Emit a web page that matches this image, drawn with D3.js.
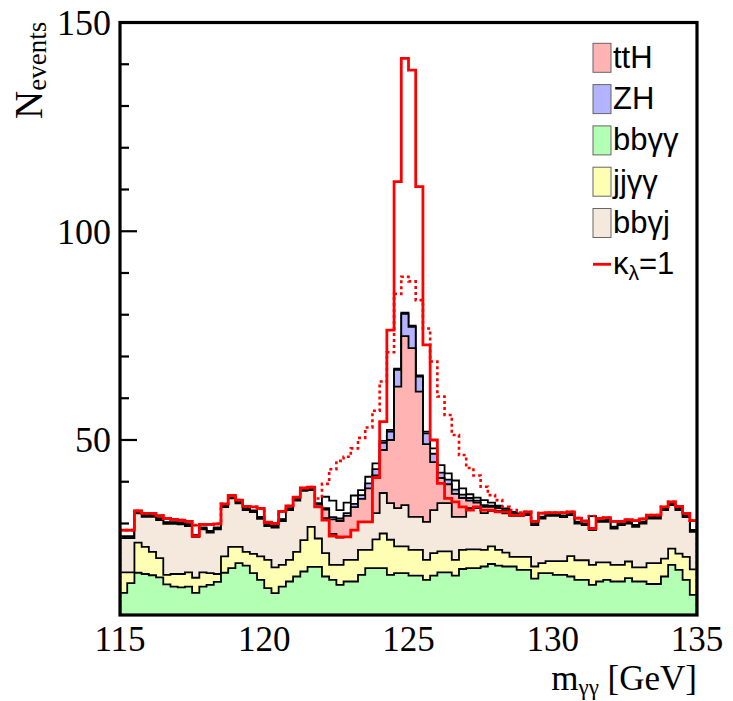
<!DOCTYPE html>
<html><head><meta charset="utf-8">
<script src="https://cdn.jsdelivr.net/npm/d3@7"></script>
<style>body{margin:0;background:#fff}</style>
</head><body>
<svg id="c" width="733" height="701"></svg>
<script>
// ---- data (80 bins of 0.25 GeV, 115-135 GeV) ----
const massRange = [115, 135];
const binWidth = 0.25;
const bbyy = [13.4,15.7,18.2,17.9,17.6,17.1,15.4,14.9,14.7,14.9,13.4,14.9,15.3,16.0,18.2,19.3,20.5,19.9,18.1,16.5,14.5,13.3,14.9,16.1,17.3,18.5,19.6,19.6,17.3,16.5,15.3,16.1,16.1,17.7,19.3,19.3,19.3,17.7,18.1,18.1,17.5,17.5,16.5,17.5,18.3,18.3,17.5,19.1,19.3,19.3,19.7,20.3,19.9,19.7,19.7,18.9,18.9,16.8,18.1,18.1,17.7,17.7,17.3,16.5,16.5,15.3,16.1,16.5,16.1,16.1,16.9,16.1,16.1,15.5,15.5,17.3,20.1,18.9,16.5,12.9];
const jjyy = [4.9,2.6,7.2,6.5,5.6,4.6,2.3,3.0,3.2,3.4,3.6,3.4,2.8,1.9,3.9,5.1,3.9,3.3,4.6,5.6,6.8,6.2,5.2,5.2,5.9,7.5,9.6,6.8,5.6,3.6,4.8,5.2,5.2,6.0,4.4,6.9,8.3,8.4,6.4,6.4,6.2,6.2,4.8,5.4,5.0,5.0,3.8,4.6,4.5,4.5,4.0,4.2,3.8,3.3,2.3,3.1,3.1,2.9,2.4,2.9,3.3,3.3,4.9,4.7,4.7,4.8,4.6,4.2,4.0,4.0,4.0,3.4,3.4,5.0,5.0,4.3,3.9,3.9,5.5,6.1];
const bbyj = [8.2,8.2,7.0,7.2,8.4,9.1,12.2,12.0,11.9,11.1,9.8,10.3,9.7,10.7,11.8,11.6,10.4,10.0,10.0,9.0,8.1,9.5,10.5,11.9,12.3,11.8,8.8,7.6,8.4,7.4,6.5,5.5,7.1,6.7,6.7,6.3,9.7,8.8,9.2,9.9,7.9,7.9,9.1,10.3,11.6,11.6,10.3,7.9,9.9,9.9,8.8,8.5,9.3,9.4,9.8,9.8,10.0,9.9,10.7,10.8,10.8,10.5,9.8,8.8,8.4,8.3,9.7,9.7,8.7,9.5,9.1,9.7,10.5,10.7,10.7,11.6,10.4,10.4,9.5,9.0];
const ttH = [0.3,0.3,0.3,0.3,0.3,0.3,0.3,0.3,0.3,0.3,0.3,0.3,0.3,0.3,0.3,0.3,0.3,0.3,0.3,0.3,0.3,0.3,0.3,0.3,0.3,0.3,0.3,0.5,2.0,3.5,4.0,5.0,5.5,5.5,8.0,9.0,10.3,15.1,29.1,40.5,40.4,30.0,18.6,11.5,6.0,4.5,5.5,4.5,1.8,1.3,1.5,1.0,0.7,0.6,0.5,0.3,0.3,0.3,0.3,0.3,0.3,0.3,0.3,0.3,0.3,0.3,0.3,0.3,0.3,0.3,0.3,0.3,0.3,0.3,0.3,0.3,0.3,0.3,0.3,0.3];
const ZH = [0.15,0.15,0.15,0.15,0.15,0.15,0.15,0.15,0.15,0.15,0.15,0.15,0.15,0.15,0.15,0.15,0.15,0.15,0.15,0.15,0.15,0.15,0.15,0.15,0.15,0.15,0.15,0.15,0.4,0.5,0.6,0.7,0.8,0.9,1.2,1.5,1.7,2.0,4.0,5.3,5.1,3.6,2.6,2.0,1.3,1.1,1.0,0.8,0.6,0.5,0.4,0.3,0.3,0.2,0.2,0.1,0.15,0.15,0.15,0.15,0.15,0.15,0.15,0.15,0.15,0.15,0.15,0.15,0.15,0.15,0.15,0.15,0.15,0.15,0.15,0.15,0.15,0.15,0.15,0.15];
const otherH = [1.4,1.4,0.2,0.3,0.3,0.6,0.8,0.6,0.5,0.6,2.3,0.7,1.5,0.8,0.3,0.2,0.3,0.4,0.8,2.0,0.4,0.5,1.8,0.5,0.3,0.2,0.2,0.2,2.7,4.0,2.0,2.5,2.0,1.2,1.6,1.4,0.5,0.4,0.3,0.3,0.3,0.3,0.4,1.3,1.8,1.5,2.2,1.5,0.9,0.7,1.2,0.7,0.3,0.4,0.3,0.2,0.3,0.4,0.8,0.3,0.3,0.6,0.3,0.8,0.5,2.9,0.3,0.5,1.2,0.4,0.4,1.0,0.6,0.3,0.3,0.3,0.3,0.4,0.4,2.2];
const kl1 = [28.4,28.4,33.0,32.4,32.4,31.9,31.2,31.0,30.8,30.5,27.0,29.8,29.8,29.9,34.7,36.7,35.6,34.1,34.0,33.6,30.3,30.0,32.9,34.2,36.3,38.5,38.7,34.0,30.8,27.0,26.8,26.8,28.4,30.4,30.4,41.0,54.4,76.3,111.9,141.4,138.6,110.7,72.8,50.0,39.6,36.0,35.2,34.0,33.2,34.0,33.2,33.2,32.8,32.8,32.0,32.0,32.8,30.5,32.5,32.6,32.6,32.6,32.8,31.3,30.6,28.8,31.2,31.4,30.5,30.5,30.9,30.7,31.1,32.0,32.0,34.0,35.2,34.1,32.4,30.7];
const klAlt = [28.4,28.4,33.0,32.4,32.4,31.9,31.2,31.0,30.8,30.5,29.6,29.8,29.8,29.9,34.7,36.7,35.6,34.1,34.0,33.6,30.3,30.0,32.9,34.2,36.3,38.5,38.7,36.0,39.5,43.0,45.0,46.0,48.0,50.5,53.0,57.0,64.0,71.0,85.0,89.1,88.0,83.5,76.7,68.8,60.4,56.0,51.2,46.4,43.3,41.5,38.8,36.8,35.6,34.0,33.2,32.6,32.8,30.5,32.5,32.6,32.6,32.6,32.8,31.3,30.6,31.8,31.2,31.4,30.5,30.5,30.9,30.7,31.1,32.0,32.0,34.0,35.2,34.1,32.4,30.7];
const yDomain = [8.08, 150];
const yMajorTicks = [50, 100, 150];
const yMinorTicks = [10,20,30,40,60,70,80,90,110,120,130,140];
const xTicks = [115, 120, 125, 130, 135];
const legendItems = [
  {label:"ttH", color:"#ffb3b3"},
  {label:"ZH", color:"#b3b3ff"},
  {label:"bbγγ", color:"#b3ffb3"},
  {label:"jjγγ", color:"#ffffb3"},
  {label:"bbγj", color:"#f5e8dc"}
];

// ---- layout ----
const L = 120, R = 697, T = 22.5, B = 615;
const svg = d3.select("#c");
const x = d3.scaleLinear().domain(massRange).range([L, R]);
const y = d3.scaleLinear().domain(yDomain).range([B, T]);
const edges = d3.range(massRange[0], massRange[1] + binWidth/2, binWidth);

svg.append("defs").append("clipPath").attr("id","clip")
  .append("rect").attr("x",L).attr("y",T).attr("width",R-L).attr("height",B-T);

// ticks (drawn under the histograms)
const tickG = svg.append("g").attr("stroke","#000").attr("stroke-width",2.2);
yMajorTicks.forEach(v => tickG.append("line").attr("x1",L).attr("x2",L+17).attr("y1",y(v)).attr("y2",y(v)));
yMinorTicks.forEach(v => tickG.append("line").attr("x1",L).attr("x2",L+9).attr("y1",y(v)).attr("y2",y(v)));

function stepPoints(vals){
  const pts = [[edges[0], yDomain[0]]];
  vals.forEach((v,i)=>{ pts.push([edges[i], v]); pts.push([edges[i+1], v]); });
  pts.push([edges[edges.length-1], yDomain[0]]);
  return pts;
}
const line = d3.line().x(d=>x(d[0])).y(d=>y(d[1]));
const area = d3.area().x(d=>x(d[0])).y0(y(yDomain[0])).y1(d=>y(d[1]));

const keys = ["bbyy","jjyy","bbyj","ttH","ZH","otherH"];
const src = {bbyy, jjyy, bbyj, ttH, ZH, otherH};
const rows = bbyy.map((_,i)=>{ const r={}; keys.forEach(k=>r[k]=src[k][i]); return r; });
const stacked = d3.stack().keys(keys)(rows);
const fills = {bbyy:"#b3ffb3", jjyy:"#ffffb3", bbyj:"#f5e8dc", ttH:"#ffb3b3", ZH:"#b3b3ff", otherH:"#ffffff"};

const plot = svg.append("g").attr("clip-path","url(#clip)");
stacked.slice().reverse().forEach(layer=>{
  const tops = layer.map(d=>d[1]);
  const pts = stepPoints(tops);
  plot.append("path").attr("d", area(pts)).attr("fill", fills[layer.key]).attr("stroke","none");
  plot.append("path").attr("d", line(pts)).attr("fill","none").attr("stroke","#000").attr("stroke-width",1.8);
});
plot.append("path").attr("d", line(stepPoints(klAlt))).attr("fill","none")
  .attr("stroke","#ff0000").attr("stroke-width",2.6).attr("stroke-dasharray","3,3");
plot.append("path").attr("d", line(stepPoints(kl1))).attr("fill","none")
  .attr("stroke","#ff0000").attr("stroke-width",2.8);

// frame
svg.append("rect").attr("x",L).attr("y",T).attr("width",R-L).attr("height",B-T)
  .attr("fill","none").attr("stroke","#000").attr("stroke-width",3.2);

// tick labels
const serif = "'Liberation Serif','Times New Roman',serif";
yMajorTicks.forEach(v => svg.append("text").attr("x",111).attr("y",y(v)+12.5)
  .attr("text-anchor","end").attr("font-family",serif).attr("font-size",36).text(v));
xTicks.forEach(v => svg.append("text").attr("x",x(v)).attr("y",651)
  .attr("text-anchor","middle").attr("font-family",serif).attr("font-size",35).text(v));

// axis titles
const yt = svg.append("text").attr("transform","translate(42,119) rotate(-90)")
  .attr("font-family",serif).attr("font-size",39);
yt.append("tspan").text("N");
yt.append("tspan").attr("font-size",27).attr("dy",4).text("events");

const xt = svg.append("text").attr("x",697).attr("y",690).attr("text-anchor","end")
  .attr("font-family",serif).attr("font-size",35);
xt.append("tspan").text("m");
xt.append("tspan").attr("font-size",23).attr("dy",5).text("γγ");
xt.append("tspan").attr("dy",-5).text("\u00a0[GeV]");

// legend
const sans = "'Liberation Sans',Arial,sans-serif";
const lg = svg.append("g");
legendItems.forEach((d,i)=>{
  const cy = 57.8 + i*41.3;
  lg.append("rect").attr("x",593).attr("y",cy-14.5).attr("width",18).attr("height",29)
    .attr("fill",d.color).attr("stroke","#666").attr("stroke-width",1);
  lg.append("text").attr("x",613).attr("y",cy+10).attr("font-family",sans).attr("font-size",31).text(d.label);
});
const ky = 57.8 + 5*41.3;
lg.append("line").attr("x1",593).attr("x2",611).attr("y1",ky).attr("y2",ky).attr("stroke","#ff0000").attr("stroke-width",2.8);
const kt = lg.append("text").attr("x",613).attr("y",ky+10).attr("font-family",sans).attr("font-size",31);
kt.append("tspan").text("κ");
kt.append("tspan").attr("font-size",21).attr("dy",6).text("λ");
kt.append("tspan").attr("dy",-6).text("=1");
</script>
</body></html>
